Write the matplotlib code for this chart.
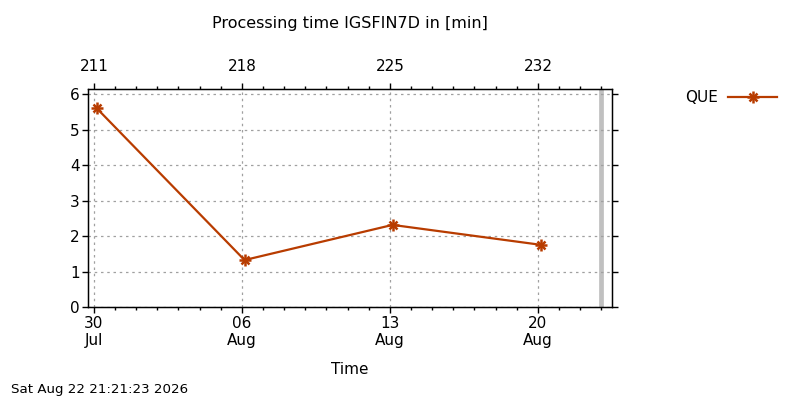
import matplotlib
matplotlib.use("Agg")
import matplotlib.pyplot as plt
import matplotlib.dates as mdates
from datetime import datetime, timedelta

# Data
times = ["2026-07-30 03:00", "2026-08-06 03:00", "2026-08-13 03:00", "2026-08-20 03:00"]
values = [5.61, 1.33, 2.32, 1.76]
series_name = "QUE"
major_dates = ["2026-07-30", "2026-08-06", "2026-08-13", "2026-08-20"]
bottom_labels = ["30\nJul", "06\nAug", "13\nAug", "20\nAug"]
top_labels = ["211", "218", "225", "232"]
now_marker = "2026-08-23 00:00"
title = "Processing time IGSFIN7D in [min]"
xlabel = "Time"
stamp = "Sat Aug 22 21:21:23 2026"

plt.rcParams['font.family'] = ['DejaVu Sans']
color = "#b83c00"

fig = plt.figure(figsize=(8, 4), dpi=100)
ax = fig.add_axes([0.110, 0.2318, 0.6554, 0.5450])

t = [datetime.strptime(s, "%Y-%m-%d %H:%M") for s in times]
md = [datetime.strptime(s, "%Y-%m-%d") for s in major_dates]
x0 = md[0] - timedelta(days=0.28)
x1 = md[0] + timedelta(days=24.52)

ax.axvline(datetime.strptime(now_marker, "%Y-%m-%d %H:%M"), color="#c0c0c0", lw=3.4, zorder=1)
ax.plot(t, values, color=color, lw=1.6, zorder=3)
ax.plot(t, values, ls="none", marker="+", ms=8, mew=1.8, color=color, zorder=4)
ax.plot(t, values, ls="none", marker="x", ms=6.2, mew=1.8, color=color, zorder=4)

ax.set_xlim(x0, x1)
ax.set_ylim(0, 6.14)
ax.set_xticks(md)
ax.set_xticklabels(bottom_labels)
minor = [md[0] + timedelta(days=i) for i in range(0, 25)]
ax.set_xticks(minor, minor=True)
ax.set_yticks(range(0, 7))
ax.tick_params(axis="both", which="major", direction="out", length=4, width=1, labelsize=11, pad=2,
               right=True, top=False)
ax.tick_params(axis="x", which="minor", direction="out", length=2.5, width=1, top=False)
ax.grid(True, which="major", color="#a0a0a0", ls=(0, (2, 3)), lw=0.9)
for s in ax.spines.values():
    s.set_linewidth(1.0)

ax2 = ax.twiny()
ax2.set_xlim(mdates.date2num(x0), mdates.date2num(x1))
ax2.set_xticks([mdates.date2num(d) for d in md])
ax2.set_xticklabels(top_labels)
ax2.set_xticks([mdates.date2num(d) for d in minor], minor=True)
ax2.tick_params(axis="x", which="major", direction="out", length=4, width=1, labelsize=11, pad=7)
ax2.tick_params(axis="x", which="minor", direction="out", length=2.5, width=1)

fig.text(0.4375, 0.942, title, ha="center", va="center", fontsize=11.5)
fig.text(0.4375, 0.077, xlabel, ha="center", va="center", fontsize=11)
fig.text(0.014, 0.025, stamp, ha="left", va="center", fontsize=9.6)

# legend
fig.text(718/800, 1 - 97/400, series_name, ha="right", va="center", fontsize=11)
ly = 1 - 97/400
fig.add_artist(plt.Line2D([728/800, 777/800], [ly, ly], color=color, lw=1.6, transform=fig.transFigure))
for mk, ms in (("+", 8), ("x", 6.2)):
    fig.add_artist(plt.Line2D([753/800], [ly], ls="none", marker=mk, ms=ms, mew=1.8, color=color,
                              transform=fig.transFigure))

fig.savefig("out.png", dpi=100)
